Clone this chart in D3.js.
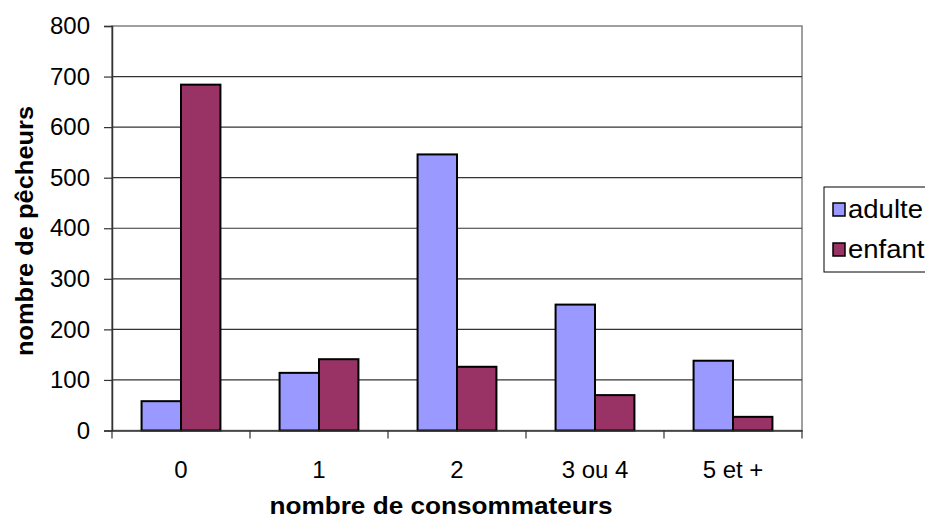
<!DOCTYPE html>
<html>
<head>
<meta charset="utf-8">
<script src="https://cdn.jsdelivr.net/npm/d3@7"></script>
<style>
  body { margin: 0; background: #fff; overflow: hidden; }
  text { font-family: "Liberation Sans", Arial, sans-serif; fill: #000; }
</style>
</head>
<body>
<div id="chart"></div>
<script>
// data
var categories = ["0", "1", "2", "3 ou 4", "5 et +"];
var series = ["adulte", "enfant"];
var adulte = [58, 114, 546, 249, 138];
var enfant = [684, 141, 126, 70, 27];
var yTicks = [0, 100, 200, 300, 400, 500, 600, 700, 800];
var colors = ["#9999ff", "#993366"];

var margin = {top: 26, left: 112},
    width = 690,
    height = 404.5;

var svg = d3.select("#chart").append("svg")
  .attr("width", 925)
  .attr("height", 518);

var chartArea = svg.append("g")
  .attr("transform", "translate(" + margin.left + "," + margin.top + ")");

var xScale = d3.scaleBand().domain(categories).range([0, width]);
var xInner = d3.scaleBand().domain(series).range([0, xScale.bandwidth()])
  .paddingInner(0).paddingOuter(0.75);
var yScale = d3.scaleLinear().domain([0, 800]).range([height, 0]);

// plot border (grey)
chartArea.append("rect")
  .attr("x", 0).attr("y", 0)
  .attr("width", width).attr("height", height)
  .attr("fill", "none")
  .attr("stroke", "#808080")
  .attr("stroke-width", 1.5);

// gridlines
chartArea.selectAll(".grid")
  .data(yTicks.filter(function(d) { return d > 0 && d < 800; }))
  .enter().append("line")
  .attr("x1", 0).attr("x2", width)
  .attr("y1", function(d) { return yScale(d); })
  .attr("y2", function(d) { return yScale(d); })
  .attr("stroke", "#333")
  .attr("stroke-width", 1.2);

// bars
var rows = categories.map(function(c, i) {
  return [{cat: c, s: "adulte", v: adulte[i]}, {cat: c, s: "enfant", v: enfant[i]}];
});
var groups = chartArea.selectAll(".grp").data(rows).enter().append("g")
  .attr("transform", function(d) { return "translate(" + xScale(d[0].cat) + ",0)"; });
groups.selectAll("rect").data(function(d) { return d; }).enter().append("rect")
  .attr("x", function(d) { return xInner(d.s); })
  .attr("width", xInner.bandwidth())
  .attr("y", function(d) { return yScale(d.v); })
  .attr("height", function(d) { return height - yScale(d.v); })
  .attr("fill", function(d) { return colors[series.indexOf(d.s)]; })
  .attr("stroke", "#000")
  .attr("stroke-width", 2);

// y axis
var yAxis = d3.axisLeft(yScale).tickValues(yTicks).tickSize(8).tickPadding(14);
var yG = chartArea.append("g").call(yAxis);
yG.select(".domain").attr("stroke", "#333").attr("stroke-width", 1.5);
yG.selectAll(".tick line").attr("stroke", "#333").attr("stroke-width", 1.2);
yG.selectAll("text").attr("font-size", 24).attr("font-family", "Liberation Sans, Arial, sans-serif").attr("fill", "#000");

// x axis
var xAxis = d3.axisBottom(xScale).tickSize(0).tickPadding(30);
var xG = chartArea.append("g").attr("transform", "translate(0," + height + ")").call(xAxis);
xG.select(".domain").attr("stroke", "#333").attr("stroke-width", 1.5);
xG.selectAll("text").attr("font-size", 24).attr("font-family", "Liberation Sans, Arial, sans-serif").attr("fill", "#000");
// category boundary ticks
xG.selectAll(".bound")
  .data(categories.map(function(c) { return xScale(c); }).concat([width]))
  .enter().append("line")
  .attr("x1", function(d) { return d; }).attr("x2", function(d) { return d; })
  .attr("y1", 0).attr("y2", 8)
  .attr("stroke", "#333").attr("stroke-width", 1.2);

// stretch text a little wider, the source is scaled horizontally
function stretch(sel, k) {
  sel.each(function() {
    var len = this.getComputedTextLength();
    d3.select(this).attr("textLength", len * k).attr("lengthAdjust", "spacingAndGlyphs");
  });
}

// axis titles
var xTitle = svg.append("text")
  .attr("x", 441).attr("y", 514)
  .attr("text-anchor", "middle")
  .attr("font-size", 24).attr("font-weight", "bold")
  .text("nombre de consommateurs");
stretch(xTitle, 1.09);

var yTitle = svg.append("text")
  .attr("transform", "translate(33,231) rotate(-90)")
  .attr("text-anchor", "middle")
  .attr("font-size", 24).attr("font-weight", "bold")
  .text("nombre de pêcheurs");
stretch(yTitle, 1.06);

// legend
var legend = svg.append("g");
legend.append("rect")
  .attr("x", 824).attr("y", 187)
  .attr("width", 120).attr("height", 85)
  .attr("fill", "#fff").attr("stroke", "#000").attr("stroke-width", 1);
var items = legend.selectAll(".item").data(series).enter().append("g")
  .attr("transform", function(d, i) { return "translate(833," + (218 + i * 40) + ")"; });
items.append("rect")
  .attr("x", 0).attr("y", -15).attr("width", 12).attr("height", 13)
  .attr("fill", function(d, i) { return colors[i]; })
  .attr("stroke", "#000").attr("stroke-width", 1.5);
var legendText = items.append("text")
  .attr("x", 15).attr("y", 0)
  .attr("font-size", 25)
  .text(function(d) { return d; });
stretch(legendText, 1.1);
</script>
</body>
</html>
